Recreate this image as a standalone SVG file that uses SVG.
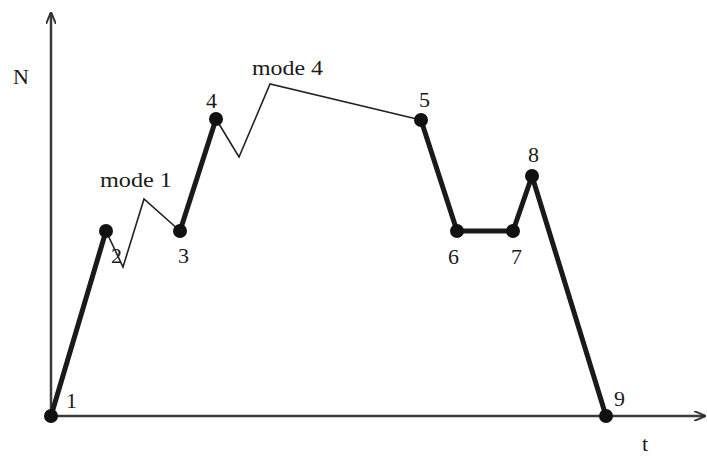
<svg xmlns="http://www.w3.org/2000/svg" width="707" height="457" viewBox="0 0 707 457">
<style>
text{font-family:"Liberation Serif","Times New Roman",serif;font-size:22px;fill:#1a1a1a}
.axis{stroke:#3a3a3a;stroke-width:2.5;fill:none}
.thick{stroke:#1a1a1a;stroke-width:5;fill:none;stroke-linecap:round}
.thin{stroke:#222;stroke-width:1.6;fill:none;stroke-linejoin:miter}
.dot{fill:#111}
</style>
<defs>
<marker id="ah" viewBox="0 0 12 10" refX="11" refY="5" markerWidth="12" markerHeight="10" markerUnits="userSpaceOnUse" orient="auto">
<path d="M0,0 L12,5 L0,10" fill="none" stroke="#333" stroke-width="2"/>
</marker>
</defs>
<g id="axes">
<line class="axis" x1="51" y1="417" x2="51" y2="13" marker-end="url(#ah)"/>
<line class="axis" x1="51" y1="416" x2="705" y2="416" marker-end="url(#ah)"/>
<text x="13" y="84">N</text>
<text x="642" y="451">t</text>
</g>
<g id="connectors">
<line class="thick" x1="51" y1="416" x2="106" y2="231"/>
<line class="thick" x1="180" y1="231" x2="216" y2="119"/>
<line class="thick" x1="421" y1="120" x2="457" y2="231"/>
<line class="thick" x1="457" y1="231" x2="513" y2="231"/>
<line class="thick" x1="513" y1="231" x2="532" y2="176"/>
<line class="thick" x1="532" y1="176" x2="606" y2="416"/>
<polyline class="thin" points="106,231 123,267 144,199 180,231"/>
<polyline class="thin" points="216,119 239,157 270,84 421,120"/>
<text x="100" y="187" textLength="72" lengthAdjust="spacingAndGlyphs">mode 1</text>
<text x="252" y="75" textLength="71" lengthAdjust="spacingAndGlyphs">mode 4</text>
</g>
<g id="n1"><circle class="dot" cx="51" cy="416" r="7"/><text x="66" y="408">1</text></g>
<g id="n2"><circle class="dot" cx="106" cy="231" r="7"/><text x="111" y="263">2</text></g>
<g id="n3"><circle class="dot" cx="180" cy="231" r="7"/><text x="178" y="263">3</text></g>
<g id="n4"><circle class="dot" cx="216" cy="119" r="7"/><text x="206" y="108">4</text></g>
<g id="n5"><circle class="dot" cx="421" cy="120" r="7"/><text x="419" y="107">5</text></g>
<g id="n6"><circle class="dot" cx="457" cy="231" r="7"/><text x="448" y="264">6</text></g>
<g id="n7"><circle class="dot" cx="513" cy="231" r="7"/><text x="511" y="264">7</text></g>
<g id="n8"><circle class="dot" cx="532" cy="176" r="7"/><text x="528" y="162">8</text></g>
<g id="n9"><circle class="dot" cx="606" cy="416" r="7"/><text x="614" y="406">9</text></g>
</svg>
